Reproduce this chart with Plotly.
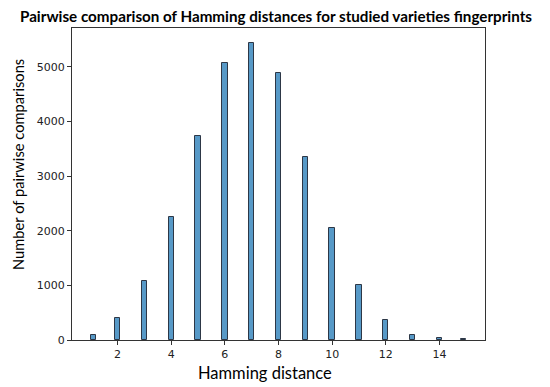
import plotly.graph_objects as go

distances = [1, 2, 3, 4, 5, 6, 7, 8, 9, 10, 11, 12, 13, 14, 15]
counts = [100, 400, 1080, 2260, 3730, 5080, 5440, 4880, 3350, 2050, 1000, 370, 100, 30, 15]
x_ticks = [2, 4, 6, 8, 10, 12, 14]
y_ticks = [0, 1000, 2000, 3000, 4000, 5000]

bin_w = 0.2
offsets = [0 if d == min(distances) else (-bin_w if d == max(distances) else -bin_w / 2) for d in distances]

fig = go.Figure()
fig.add_trace(go.Bar(
    x=distances, y=counts, width=bin_w, offset=offsets,
    marker=dict(color="rgba(31,119,180,0.75)", line=dict(color="rgb(45,55,70)", width=1)),
    showlegend=False,
))

axis_common = dict(showgrid=False, zeroline=False, showline=True, linecolor="#333333", linewidth=1,
                   mirror=True, ticks="outside", ticklen=4, tickcolor="#333333", automargin=False,
                   tickfont=dict(family="DejaVu Sans", size=11, color="#222222"))

W, H = 542, 379
L, R, T, B = 64, 65, 20, 47
PW, PH = W - L - R, H - T - B

fig.update_layout(
    width=W, height=H,
    margin=dict(l=L, r=R, t=T, b=B),
    paper_bgcolor="white", plot_bgcolor="white",
    xaxis=dict(range=[0.3, 15.7], tickvals=x_ticks, **axis_common),
    yaxis=dict(range=[0, 5713], tickvals=y_ticks, **axis_common),
    bargap=0,
    annotations=[
        dict(text="<b>Pairwise comparison of Hamming distances for studied varieties fingerprints</b>",
             xref="paper", yref="paper", x=(268 - L) / PW, y=1 + 12 / PH,
             xanchor="center", yanchor="middle", showarrow=False,
             font=dict(family="Lato", size=15.2, color="black")),
        dict(text="Hamming distance", xref="paper", yref="paper",
             x=(257 - L) / PW, y=-33 / PH, xanchor="center", yanchor="middle",
             showarrow=False, font=dict(family="Lato", size=16.5, color="black")),
        dict(text="Number of pairwise comparisons", xref="paper", yref="paper",
             x=-(L - 10) / PW, y=(T + PH - 157) / PH, xanchor="center", yanchor="middle",
             textangle=-90, showarrow=False, font=dict(family="Lato", size=14.7, color="black")),
    ],
)

fig.write_html("out.html")
